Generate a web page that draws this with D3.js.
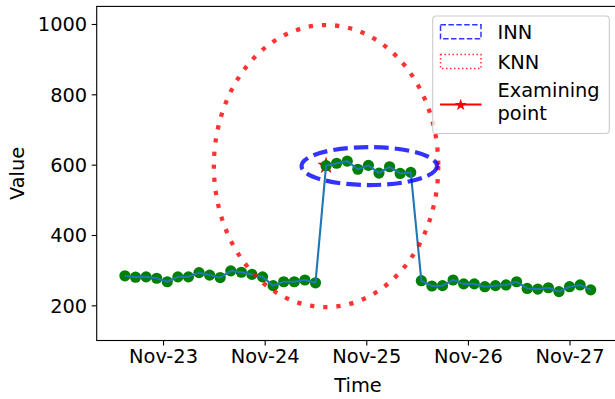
<!DOCTYPE html>
<html><head><meta charset="utf-8">
<script src="https://cdn.jsdelivr.net/npm/d3@7"></script>
<style>
html,body{margin:0;padding:0;background:#fff;}
svg{display:block;font-family:"DejaVu Sans",sans-serif;}
</style></head>
<body>
<svg id="c" width="615" height="399"></svg>
<script>
// ---- data ----
const startTime = new Date(2019, 10, 22, 15, 0);   // first sample
const stepMinutes = 150;                            // sampling interval
const values = [
  284, 280, 281, 277, 267, 281, 281, 293, 286, 279,
  298, 294, 288, 281, 256, 267, 267, 272, 264,
  597, 604, 610, 587, 598, 576, 594, 575, 578,
  270, 255, 256, 272, 261, 261, 253, 256, 258, 267,
  248, 246, 250, 239, 253, 258, 244
];
const examIndex = 19;
const tickDates = [new Date(2019,10,23), new Date(2019,10,24), new Date(2019,10,25), new Date(2019,10,26), new Date(2019,10,27)];
const yTicks = [200, 400, 600, 800, 1000];
// ellipses: [center offset hours from exam point, centerValue, halfWidthHours, halfHeightValue]
const knnEllipse = [0, 596, 26.5, 401];
const innEllipse = [10.2, 596, 16, 54];
const legendLabels = ["INN", "KNN", ["Examining", "point"]];

const times = values.map((v, i) => d3.timeMinute.offset(startTime, i * stepMinutes));
const data = values.map((v, i) => ({t: times[i], v}));

// ---- layout ----
const L = 96.7, R = 619.3, T = 6.4, B = 340.5;
const x = d3.scaleTime().domain([new Date(2019,10,22,8,20), new Date(2019,10,27,11,45)]).range([L, R]);
const y = d3.scaleLinear().domain([100, 1050]).range([B, T]);

const svg = d3.select("#c");
const fs = 19.4;

svg.append("defs").append("clipPath").attr("id","clip")
  .append("rect").attr("x",L).attr("y",T).attr("width",R-L).attr("height",B-T);
const g = svg.append("g").attr("clip-path","url(#clip)");

// star marker (under points)
const ex = data[examIndex];
g.append("path")
  .attr("d", d3.symbol().type(d3.symbolStar).size(95)())
  .attr("transform", `translate(${x(ex.t)},${y(ex.v)})`)
  .attr("fill", "red");

// scatter
g.selectAll("circle.pt").data(data).join("circle")
  .attr("class","pt")
  .attr("cx", d => x(d.t)).attr("cy", d => y(d.v)).attr("r", 5.6)
  .attr("fill", "#008000");

// line
g.append("path").datum(data)
  .attr("d", d3.line().x(d => x(d.t)).y(d => y(d.v)))
  .attr("fill","none").attr("stroke","#1f77b4").attr("stroke-width",2.1)
  .attr("stroke-linejoin","round");

// ellipses
function drawEllipse(p, color, dash, sw) {
  const tc = d3.timeMinute.offset(ex.t, p[0]*60);
  const cx = x(tc), cy = y(p[1]);
  const rx = x(d3.timeMinute.offset(tc, p[2]*60)) - cx;
  const ry = y(p[1] - p[3]) - cy;
  g.append("ellipse").attr("cx",cx).attr("cy",cy).attr("rx",rx).attr("ry",ry)
    .attr("fill","none").attr("stroke",color).attr("stroke-opacity",0.8)
    .attr("stroke-width",sw).attr("stroke-dasharray",dash);
}
drawEllipse(knnEllipse, "red", "4.3 8.9", 4.3);
drawEllipse(innEllipse, "blue", "14.5 6", 4.2);

// axes
const xAxis = d3.axisBottom(x).tickValues(tickDates).tickFormat(d3.timeFormat("%b-%d")).tickSizeOuter(0).tickSize(5).tickPadding(6);
const yAxis = d3.axisLeft(y).tickValues(yTicks).tickFormat(d3.format("d")).tickSizeOuter(0).tickSize(5).tickPadding(6);
const gx = svg.append("g").attr("transform",`translate(0,${B})`).call(xAxis);
const gy = svg.append("g").attr("transform",`translate(${L},0)`).call(yAxis);
[gx, gy].forEach(a => {
  a.select(".domain").remove();
  a.selectAll("line").attr("stroke","#000").attr("stroke-width",1.1);
  a.selectAll("text").attr("font-size", fs).attr("font-family","DejaVu Sans").attr("fill","#000");
});
gx.selectAll("text").attr("dy", "0.71em").attr("y", 9);
gy.selectAll("text").attr("dy", "0.36em").attr("x", -9.5);

// spines
svg.append("rect").attr("x",L).attr("y",T).attr("width",R-L).attr("height",B-T)
  .attr("fill","none").attr("stroke","#000").attr("stroke-width",1.1);

// axis labels
svg.append("text").attr("x",(L+R)/2).attr("y",392).attr("text-anchor","middle")
  .attr("font-size",fs).text("Time");
svg.append("text").attr("transform",`translate(24,${(T+B)/2}) rotate(-90)`)
  .attr("text-anchor","middle").attr("font-size",fs).text("Value");

// legend
const lg = svg.append("g");
lg.append("rect").attr("x",432.7).attr("y",16).attr("width",176.6).attr("height",117.5)
  .attr("rx",3.5).attr("fill","#fff").attr("fill-opacity",0.8)
  .attr("stroke","#cccccc").attr("stroke-width",1.1);
lg.append("rect").attr("x",440.5).attr("y",24.8).attr("width",40.5).attr("height",14)
  .attr("fill","none").attr("stroke","blue").attr("stroke-opacity",0.8)
  .attr("stroke-width",1.5).attr("stroke-dasharray","5.5 2.4");
lg.append("rect").attr("x",440.5).attr("y",54.5).attr("width",40.5).attr("height",14)
  .attr("fill","none").attr("stroke","red").attr("stroke-opacity",0.8)
  .attr("stroke-width",1.5).attr("stroke-dasharray","1.5 2.5");
lg.append("line").attr("x1",440).attr("x2",481.5).attr("y1",104.5).attr("y2",104.5)
  .attr("stroke","red").attr("stroke-width",2.1);
lg.append("path").attr("d", d3.symbol().type(d3.symbolStar).size(45)())
  .attr("transform","translate(460.7,105)").attr("fill","red");
lg.append("text").attr("x",497.5).attr("y",39.3).attr("font-size",fs).text(legendLabels[0]);
lg.append("text").attr("x",497.5).attr("y",68.8).attr("font-size",fs).text(legendLabels[1]);
lg.append("text").attr("x",497.5).attr("y",97.2).attr("font-size",fs).text(legendLabels[2][0]);
lg.append("text").attr("x",497.5).attr("y",120).attr("font-size",fs).text(legendLabels[2][1]);
</script>
</body></html>
